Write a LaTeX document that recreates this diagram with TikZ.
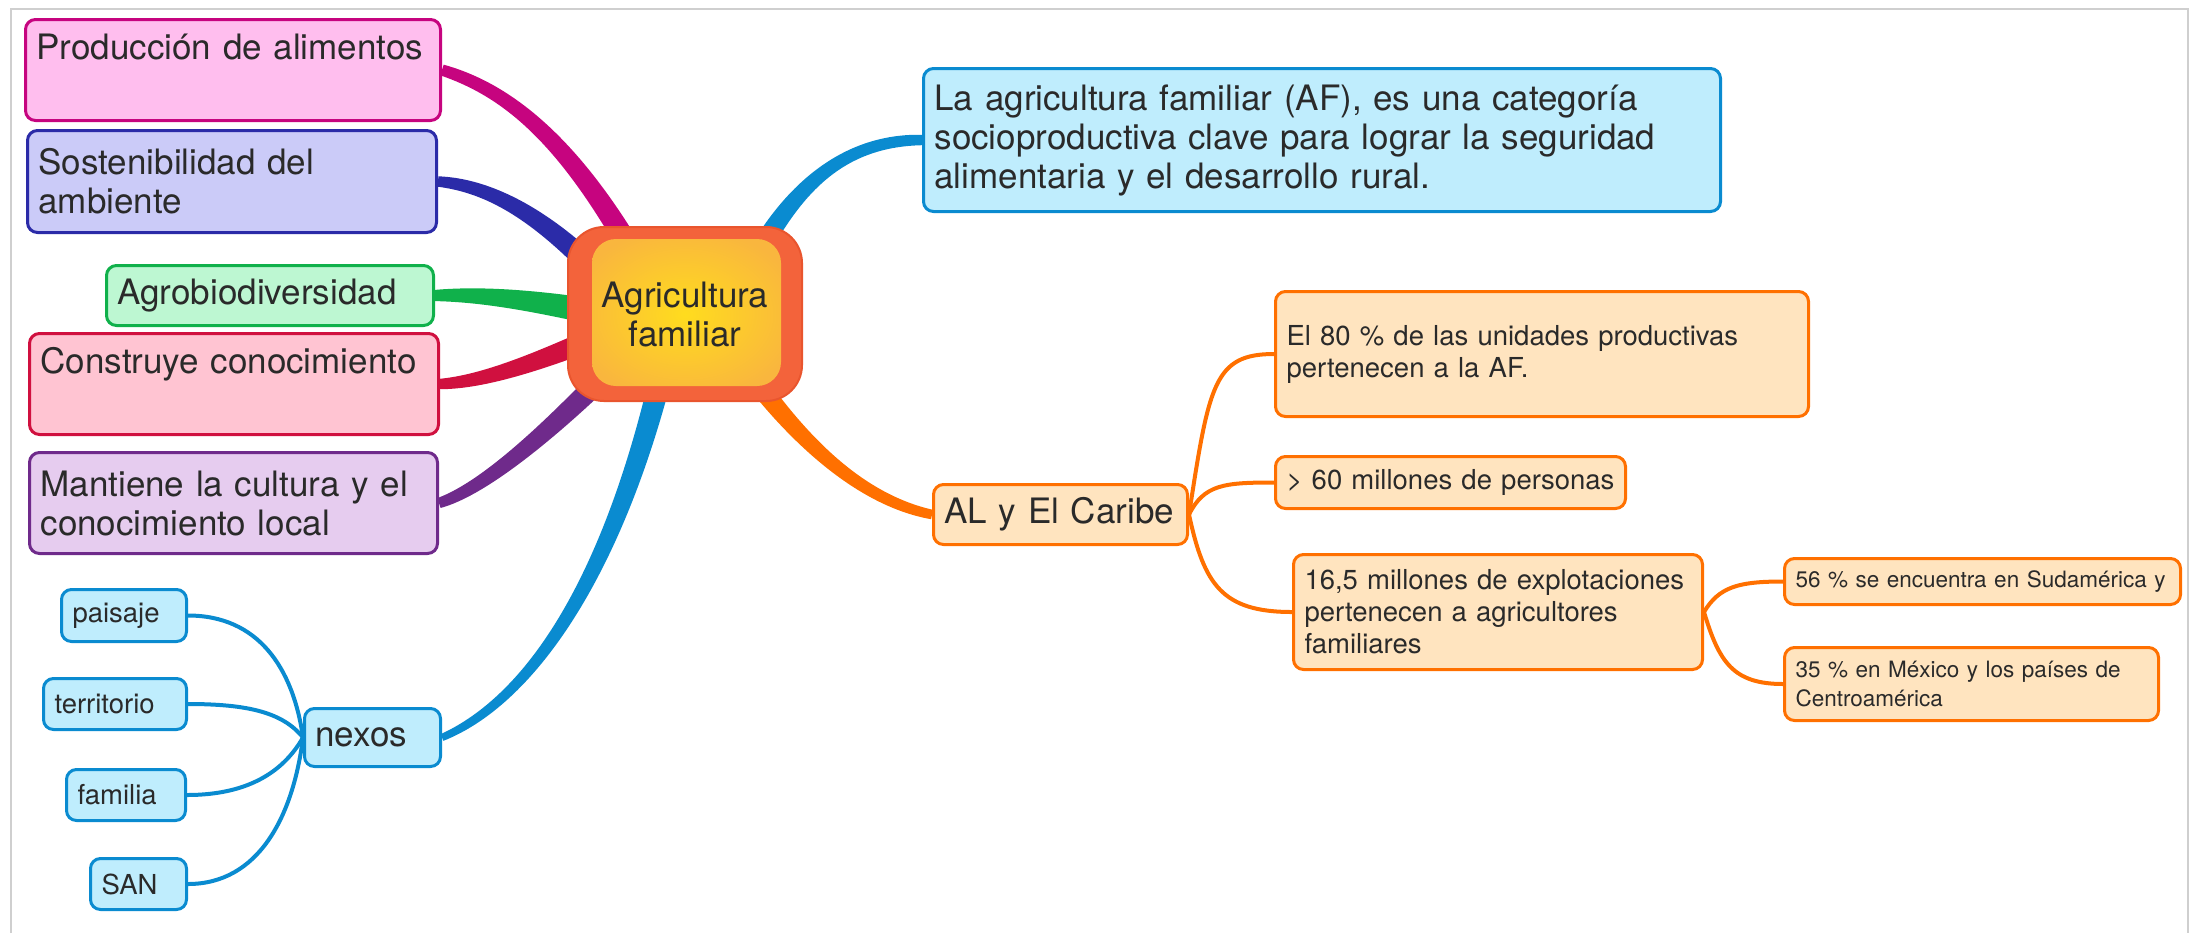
\documentclass[tikz,border=0pt]{standalone}
\usepackage{fontspec}
\setmainfont{TeX Gyre Heros}
\usetikzlibrary{backgrounds}
\usetikzlibrary{calc}
\definecolor{txt}{HTML}{2A2A2A}
\definecolor{framegray}{HTML}{CFCFCF}
\definecolor{prodfill}{HTML}{FFBEEE}
\definecolor{proddraw}{HTML}{C6047F}
\definecolor{sostfill}{HTML}{CBCBF8}
\definecolor{sostdraw}{HTML}{2B2BA8}
\definecolor{agrofill}{HTML}{BDF7D2}
\definecolor{agrodraw}{HTML}{10B14B}
\definecolor{consfill}{HTML}{FFC4D2}
\definecolor{consdraw}{HTML}{D0103F}
\definecolor{mantfill}{HTML}{E6CCEF}
\definecolor{mantdraw}{HTML}{6F2A8B}
\definecolor{bluefill}{HTML}{BFEDFD}
\definecolor{bluedraw}{HTML}{0A8BD0}
\definecolor{orfill}{HTML}{FFE4BF}
\definecolor{ordraw}{HTML}{FF7000}
\definecolor{hubred}{HTML}{F3633B}
\definecolor{hubedge}{HTML}{E9552E}
\definecolor{hubyel}{HTML}{FFDC1E}
\definecolor{hubor}{HTML}{F9B63E}
\newcommand{\fbig}{\fontsize{17.5pt}{19.5pt}\selectfont}
\newcommand{\fmid}{\fontsize{13.75pt}{16pt}\selectfont}
\newcommand{\fsmall}{\fontsize{11.25pt}{14.5pt}\selectfont}
% tapered branch: colour, leaf end, control, control, hub end, leaf half width, hub half width
\newcommand{\taper}[7]{\fill[#1]let\p1=#2,\p2=#3,\p3=#4,\p4=#5,\n1={atan2(\y2-\y1,\x2-\x1)},\n2={atan2(\y4-\y3,\x4-\x3)},\n3={(2*#6+#7)/3},\n4={(#6+2*#7)/3} in
	($(\p1)+({\n1+90}:#6)$)..controls($(\p2)+({\n1+90}:\n3)$)and($(\p3)+({\n2+90}:\n4)$)..($(\p4)+({\n2+90}:#7)$)--
	($(\p4)+({\n2-90}:#7)$)..controls($(\p3)+({\n2-90}:\n4)$)and($(\p2)+({\n1-90}:\n3)$)..($(\p1)+({\n1-90}:#6)$)--cycle;}
\begin{document}
\begin{tikzpicture}[x=0.5pt,y=-0.5pt,
	box/.style={draw,rounded corners=5pt,line width=1.5pt,anchor=north west,inner xsep=5.5pt,inner ysep=4pt,align=left,text=txt},
	bluebox/.style={box,fill=bluefill,draw=bluedraw},
	orbox/.style={box,fill=orfill,draw=ordraw},
	hub/.style={rounded corners=18pt,fill=hubred,draw=hubedge,line width=1pt,minimum width=117pt,minimum height=87pt,align=center,font=\fbig,text=txt,
		path picture={\shade[inner color=hubyel,outer color=hubor,rounded corners=12pt]($(path picture bounding box.south west)+(12pt,7.5pt)$)rectangle($(path picture bounding box.north east)+(-10.5pt,-6pt)$);}},
	twig/.style={line width=2pt,line cap=round}]
			\useasboundingbox(0,0)rectangle(2199,933);
			\draw[framegray,line width=0.6pt](11,933)--(11,9)--(2188,9)--(2188,933);
			\node[hub](af)at(685,314){Agricultura\\familiar};
			\node[box,fill=prodfill,draw=proddraw,font=\fbig,text width=196.5pt,text height=16pt,text depth=26.5pt](prod)at(24,18){Producción de alimentos};
			\node[box,fill=sostfill,draw=sostdraw,font=\fbig,text width=193.5pt,minimum height=51pt](sost)at(26,129){Sostenibilidad del\\ambiente};
			\node[box,fill=agrofill,draw=agrodraw,font=\fbig,text width=152.5pt,minimum height=30pt](agro)at(105,264){Agrobiodiversidad};
			\node[box,fill=consfill,draw=consdraw,font=\fbig,text width=193.5pt,text height=16pt,text depth=26.5pt](cons)at(28,332){Construye conocimiento};
			\node[box,fill=mantfill,draw=mantdraw,font=\fbig,text width=193pt,minimum height=50.5pt](mant)at(28,451){Mantiene la cultura y el\\conocimiento local};
			\node[bluebox,font=\fbig,text width=387.5pt,minimum height=71.5pt](def)at(922,67){La agricultura familiar (AF), es una categoría\\socioproductiva clave para lograr la seguridad\\alimentaria y el desarrollo rural.};
			\node[orbox,font=\fbig,text width=116pt,minimum height=30pt](al)at(932,483){AL y El Caribe};
			\node[orbox,font=\fmid,text width=255.5pt,minimum height=62.5pt](e80)at(1274,290){El 80 \% de las unidades productivas\\pertenecen a la AF.};
			\node[orbox,font=\fmid,text width=164pt,minimum height=26pt](p60)at(1274,455){> 60 millones de personas};
			\node[orbox,font=\fmid,text width=193.5pt,minimum height=57.5pt](m165)at(1292,553){16,5 millones de explotaciones\\pertenecen a agricultores\\familiares};
			\node[orbox,font=\fsmall,text width=187pt,minimum height=23pt](s56)at(1783,557){56 \% se encuentra en Sudamérica y};
			\node[orbox,font=\fsmall,text width=176pt,minimum height=36.5pt](s35)at(1783,646){35 \% en México y los países de\\Centroamérica};
			\node[bluebox,font=\fbig,text width=57pt,minimum height=29pt](nexos)at(303,707){nexos};
			\node[bluebox,font=\fmid,text width=51.5pt,minimum height=26pt](pais)at(60,588){paisaje};
			\node[bluebox,font=\fmid,text width=60.5pt,minimum height=25.5pt](terr)at(42,677){territorio};
			\node[bluebox,font=\fmid,text width=48.5pt,minimum height=25.5pt](fam)at(65,768){familia};
			\node[bluebox,font=\fmid,text width=37pt,minimum height=25.5pt](san)at(89,857){SAN};
			\begin{scope}[on background layer]
			\taper{proddraw}{(prod.east)}{(500,88)}{(560,130)}{(628,245)}{2.8pt}{5.5pt}
			\taper{sostdraw}{(sost.east)}{(480,185)}{(530,205)}{(595,270)}{2.6pt}{5.5pt}
			\taper{agrodraw}{(agro.east)}{(480,294)}{(530,300)}{(595,312)}{2.8pt}{6.5pt}
			\taper{consdraw}{(cons.east)}{(480,382)}{(530,365)}{(595,338)}{2.6pt}{5.5pt}
			\taper{mantdraw}{(mant.east)}{(480,490)}{(540,440)}{(605,375)}{2.6pt}{5.5pt}
			\taper{bluedraw}{(nexos.east)}{(530,700)}{(610,580)}{(660,380)}{1.8pt}{5.5pt}
			\taper{bluedraw}{(def.west)}{(850,140)}{(800,180)}{(760,250)}{2.6pt}{5pt}
			\taper{ordraw}{(al.west)}{(860,500)}{(800,440)}{(755,380)}{2.4pt}{5pt}
			\draw[twig,ordraw](al.east)..controls+(20,-130)and+(-60,0)..(e80.west);
			\draw[twig,ordraw](al.east)..controls+(15,-30)and+(-50,0)..(p60.west);
			\draw[twig,ordraw](al.east)..controls+(15,70)and+(-70,0)..(m165.west);
			\draw[twig,ordraw](m165.east)..controls+(15,-25)and+(-45,0)..(s56.west);
			\draw[twig,ordraw](m165.east)..controls+(15,50)and+(-50,0)..(s35.west);
			\draw[twig,bluedraw](nexos.west)..controls+(-10,-70)and+(70,0)..(pais.east);
			\draw[twig,bluedraw](nexos.west)..controls+(-20,-25)and+(60,0)..(terr.east);
			\draw[twig,bluedraw](nexos.west)..controls+(-20,35)and+(60,0)..(fam.east);
			\draw[twig,bluedraw](nexos.west)..controls+(-10,80)and+(70,0)..(san.east);
			\end{scope}
		\end{tikzpicture}
\end{document}
